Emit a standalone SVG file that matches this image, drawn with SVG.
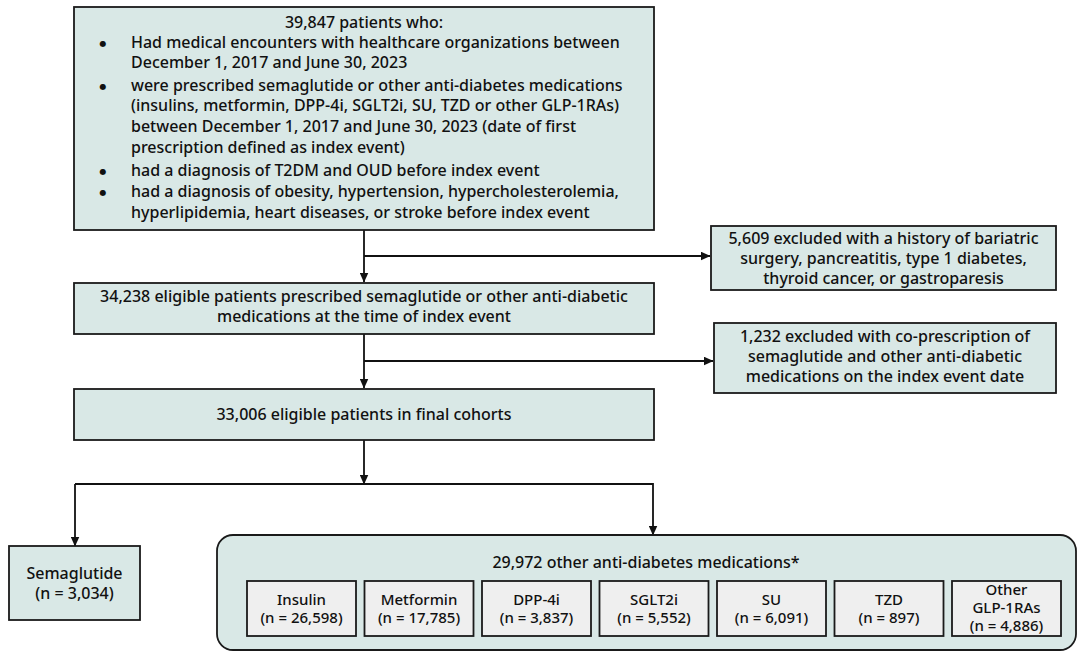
<svg xmlns="http://www.w3.org/2000/svg" width="1079" height="652" viewBox="0 0 1079 652">
<defs>
<style>
.box{fill:#d9e8e6;stroke:#1a1a1a;stroke-width:1.8}
.sub{fill:#efefef;stroke:#1a1a1a;stroke-width:1.8}
.t{font-family:"Noto Sans","Open Sans","DejaVu Sans",sans-serif;font-size:16px;font-weight:500;fill:#111}
.s{font-size:15px}
.c{text-anchor:middle}
.b{font-family:"DejaVu Sans",sans-serif;font-size:8px;fill:#111;text-anchor:middle}
.ln{fill:none;stroke:#111;stroke-width:1.8}
</style>
<marker id="ah" viewBox="0 0 10 10" refX="9.5" refY="5" markerWidth="10" markerHeight="9" markerUnits="userSpaceOnUse" orient="auto" preserveAspectRatio="none"><path d="M0,0 L10,5 L0,10 z" fill="#111"/></marker>
</defs>
<rect width="1079" height="652" fill="#fff"/>
<g id="connectors">
<path class="ln" d="M364,230 V282" marker-end="url(#ah)"/>
<path class="ln" d="M364,256 H710" marker-end="url(#ah)"/>
<path class="ln" d="M364,334 V388" marker-end="url(#ah)"/>
<path class="ln" d="M364,361 H713" marker-end="url(#ah)"/>
<path class="ln" d="M364,440 V484" marker-end="url(#ah)"/>
<path class="ln" d="M75,484 H653 V535" marker-end="url(#ah)"/>
<path class="ln" d="M75,484 V546" marker-end="url(#ah)"/>
</g>
<g id="n-start">
<rect class="box" x="74" y="7" width="580" height="223"/>
<text class="t c" x="364" y="28">39,847 patients who:</text>
<text class="b" x="103" y="45.5">●</text>
<text class="t" x="131" y="48">Had medical encounters with healthcare organizations  between</text>
<text class="t" x="131" y="68">December 1, 2017 and June 30, 2023</text>
<text class="b" x="103" y="88.5">●</text>
<text class="t" x="131" y="91">were prescribed semaglutide or other anti-diabetes medications</text>
<text class="t" x="131" y="111">(insulins, metformin, DPP-4i, SGLT2i, SU, TZD or other GLP-1RAs)</text>
<text class="t" x="131" y="132">between December 1, 2017 and June 30, 2023 (date of first</text>
<text class="t" x="131" y="153">prescription defined as index event)</text>
<text class="b" x="103" y="173.5">●</text>
<text class="t" x="131" y="176">had a diagnosis of T2DM and OUD before index event</text>
<text class="b" x="103" y="194.5">●</text>
<text class="t" x="131" y="197">had a diagnosis of obesity, hypertension, hypercholesterolemia,</text>
<text class="t" x="131" y="218">hyperlipidemia, heart diseases, or stroke before index event</text>
</g>
<g id="n-excl1">
<rect class="box" x="711" y="226" width="345" height="64"/>
<text class="t c" x="883.5" y="244">5,609 excluded with a history of bariatric</text>
<text class="t c" x="883.5" y="264">surgery, pancreatitis, type 1 diabetes,</text>
<text class="t c" x="883.5" y="284">thyroid cancer, or gastroparesis</text>
</g>
<g id="n-eligible">
<rect class="box" x="74" y="283" width="580" height="51"/>
<text class="t c" x="364" y="302">34,238 eligible patients prescribed semaglutide or other anti-diabetic</text>
<text class="t c" x="364" y="322">medications at the time of index event</text>
</g>
<g id="n-excl2">
<rect class="box" x="714" y="323" width="342" height="70"/>
<text class="t c" x="885" y="342">1,232 excluded with co-prescription of</text>
<text class="t c" x="885" y="362">semaglutide and other anti-diabetic</text>
<text class="t c" x="885" y="382">medications on the index event date</text>
</g>
<g id="n-final">
<rect class="box" x="74" y="389" width="580" height="51"/>
<text class="t c" x="364" y="420">33,006 eligible patients in final cohorts</text>
</g>
<g id="n-sema">
<rect class="box" x="9" y="546" width="131" height="74"/>
<text class="t c" x="74.5" y="579">Semaglutide</text>
<text class="t c" x="74.5" y="599">(n = 3,034)</text>
</g>
<g id="n-other">
<rect class="box" x="217" y="535" width="859" height="115" rx="16"/>
<text class="t c" x="646" y="568">29,972 other anti-diabetes medications*</text>
<g id="n-insulin"><rect class="sub" x="247" y="581" width="109" height="55"/><text class="t s c" x="301.5" y="605">Insulin</text><text class="t s c" x="301.5" y="623">(n = 26,598)</text></g>
<g id="n-metformin"><rect class="sub" x="364.5" y="581" width="109" height="55"/><text class="t s c" x="419" y="605">Metformin</text><text class="t s c" x="419" y="623">(n = 17,785)</text></g>
<g id="n-dpp4i"><rect class="sub" x="482" y="581" width="109" height="55"/><text class="t s c" x="536.5" y="605">DPP-4i</text><text class="t s c" x="536.5" y="623">(n = 3,837)</text></g>
<g id="n-sglt2i"><rect class="sub" x="599.5" y="581" width="109" height="55"/><text class="t s c" x="654" y="605">SGLT2i</text><text class="t s c" x="654" y="623">(n = 5,552)</text></g>
<g id="n-su"><rect class="sub" x="717" y="581" width="109" height="55"/><text class="t s c" x="771.5" y="605">SU</text><text class="t s c" x="771.5" y="623">(n = 6,091)</text></g>
<g id="n-tzd"><rect class="sub" x="834.5" y="581" width="109" height="55"/><text class="t s c" x="889" y="605">TZD</text><text class="t s c" x="889" y="623">(n = 897)</text></g>
<g id="n-glp"><rect class="sub" x="952" y="581" width="109" height="55"/><text class="t s c" x="1006.5" y="595">Other</text><text class="t s c" x="1006.5" y="613">GLP-1RAs</text><text class="t s c" x="1006.5" y="631">(n = 4,886)</text></g>
</g>
</svg>
